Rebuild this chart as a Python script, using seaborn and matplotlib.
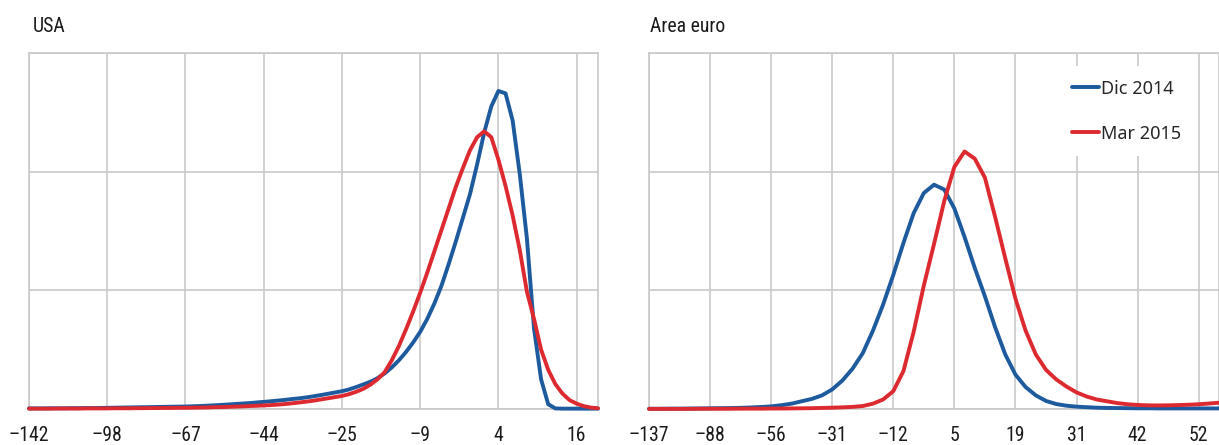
import matplotlib
matplotlib.use("Agg")
import matplotlib.pyplot as plt
import seaborn as sns
import pandas as pd

# --- data (one value per category step) ---
usa_labels = ["\u2013142", "\u201398", "\u201367", "\u201344", "\u201325", "\u20139", "4", "16"]
area_labels = ["\u2013137", "\u201388", "\u201356", "\u201331", "\u201312", "5", "19", "31", "42", "52"]

usa_dic_2014 = [
    0.005, 0.005, 0.005, 0.006, 0.006, 0.006, 0.007, 0.007, 0.008, 0.008, 0.009,
    0.010, 0.011, 0.012, 0.013, 0.014, 0.015, 0.016, 0.017, 0.018, 0.019, 0.020,
    0.021, 0.023, 0.025, 0.028, 0.031, 0.034, 0.038, 0.042, 0.046, 0.050, 0.055, 0.060,
    0.065, 0.071, 0.077, 0.084, 0.090, 0.098, 0.107, 0.117, 0.128, 0.139, 0.150,
    0.165, 0.185, 0.207, 0.230, 0.260, 0.300, 0.350, 0.410, 0.480, 0.560, 0.650,
    0.760, 0.890, 1.040, 1.220, 1.410, 1.610, 1.810, 2.060, 2.330, 2.550, 2.680,
    2.660, 2.430, 1.980, 1.440, 0.680, 0.250, 0.040, 0.005, 0.003, 0.003, 0.003,
    0.003, 0.003, 0.003,
]
usa_mar_2015 = [
    0.003, 0.003, 0.003, 0.003, 0.004, 0.004, 0.004, 0.004, 0.005, 0.005, 0.005,
    0.005, 0.006, 0.006, 0.006, 0.007, 0.007, 0.008, 0.008, 0.009, 0.009, 0.010,
    0.010, 0.011, 0.012, 0.013, 0.015, 0.016, 0.018, 0.020, 0.022, 0.025, 0.027, 0.030,
    0.033, 0.037, 0.042, 0.048, 0.055, 0.062, 0.070, 0.080, 0.090, 0.100, 0.110,
    0.125, 0.145, 0.170, 0.205, 0.250, 0.310, 0.410, 0.530, 0.670, 0.820, 0.980,
    1.150, 1.330, 1.510, 1.690, 1.870, 2.030, 2.180, 2.290, 2.340, 2.290, 2.100,
    1.880, 1.630, 1.340, 0.990, 0.760, 0.500, 0.330, 0.210, 0.130, 0.075, 0.045,
    0.024, 0.012, 0.006,
]

area_dic_2014 = [
    0.002, 0.002, 0.003, 0.003, 0.004, 0.005, 0.006, 0.007, 0.008, 0.010, 0.013, 0.017,
    0.022, 0.032, 0.045, 0.065, 0.085, 0.115, 0.165, 0.240, 0.340, 0.470, 0.660,
    0.880, 1.130, 1.400, 1.650, 1.820, 1.890, 1.850, 1.690, 1.450, 1.190, 0.950,
    0.690, 0.460, 0.290, 0.185, 0.115, 0.068, 0.042, 0.028, 0.020, 0.015, 0.011,
    0.009, 0.008, 0.007, 0.006, 0.006, 0.005, 0.005, 0.005, 0.005, 0.005, 0.005, 0.005,
]
area_mar_2015 = [
    0.001, 0.001, 0.001, 0.001, 0.001, 0.002, 0.002, 0.002, 0.002, 0.003, 0.003, 0.003,
    0.004, 0.004, 0.005, 0.006, 0.007, 0.009, 0.011, 0.014, 0.018, 0.025, 0.045,
    0.080, 0.150, 0.320, 0.650, 1.040, 1.390, 1.750, 2.040, 2.170, 2.110, 1.950,
    1.620, 1.270, 0.930, 0.660, 0.460, 0.330, 0.250, 0.190, 0.140, 0.105, 0.080,
    0.065, 0.050, 0.040, 0.034, 0.031, 0.030, 0.031, 0.033, 0.036, 0.040, 0.046, 0.053,
]

series_names = ["Dic 2014", "Mar 2015"]
series_colors = {"Dic 2014": "#1d5a9e", "Mar 2015": "#dc2a30"}

sns.set_theme(style="white")
condensed = ["Roboto Condensed", "PT Sans Narrow", "DejaVu Sans"]
plt.rcParams["font.family"] = condensed

W, H = 1219, 445
fig = plt.figure(figsize=(W / 100, H / 100), dpi=100)
ax1 = fig.add_axes([29 / W, 1 - 409 / H, (598 - 29) / W, (409 - 53) / H])
ax2 = fig.add_axes([649 / W, 1 - 409 / H, (W - 649) / W, (409 - 53) / H])

grid_c = "#c9c9cb"


def draw_panel(ax, dic, mar, labels, step, xmax):
    df = pd.DataFrame({
        "idx": list(range(len(dic))) * 2,
        "val": dic + mar,
        "serie": [series_names[0]] * len(dic) + [series_names[1]] * len(mar),
    })
    sns.lineplot(data=df, x="idx", y="val", hue="serie", palette=series_colors,
                 linewidth=2.8, ax=ax, legend=False, zorder=3, clip_on=False)
    ax.set_xlim(0, xmax)
    ax.set_ylim(0, 3)
    ax.set_xticks(range(0, step * len(labels), step))
    ax.set_xticklabels(labels)
    ax.set_yticks([0, 1, 2, 3])
    ax.set_yticklabels([])
    ax.set_xlabel("")
    ax.set_ylabel("")
    ax.grid(True, color=grid_c, linewidth=1.2)
    ax.set_axisbelow(True)
    ax.tick_params(length=0, pad=12, labelsize=14.2, labelcolor="#1a1a1a")
    for s in ax.spines.values():
        s.set_color(grid_c)
        s.set_linewidth(1.2)


draw_panel(ax1, usa_dic_2014, usa_mar_2015, usa_labels, 11, 80)
draw_panel(ax2, area_dic_2014, area_mar_2015, area_labels, 6, 56)

fig.text(33 / W, 1 - 32 / H, "USA", ha="left", va="baseline", fontsize=14.2, color="#1a1a1a")
fig.text(650 / W, 1 - 32 / H, "Area euro", ha="left", va="baseline", fontsize=14.2, color="#1a1a1a")

handles = [plt.Line2D([], [], color=series_colors[n], linewidth=2.8) for n in series_names]
ax2.legend(handles, series_names, loc="upper left",
           bbox_to_anchor=(1058 / W, 1 - 66 / H), bbox_transform=fig.transFigure,
           frameon=True, facecolor="white", edgecolor="none", framealpha=1, fancybox=False,
           handlelength=1.5, handletextpad=0.15, labelspacing=1.5, borderpad=0.75,
           borderaxespad=0, prop={"family": ["Noto Sans", "DejaVu Sans"], "size": 13})

fig.savefig("out.png", dpi=100)
